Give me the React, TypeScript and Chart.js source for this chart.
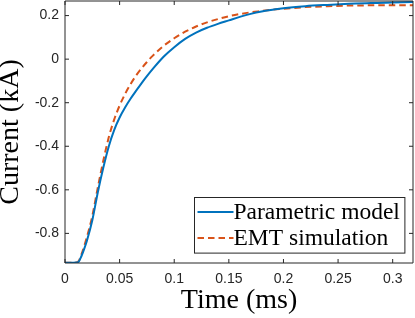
import React, { useEffect, useRef } from 'react';
import { Chart, registerables } from 'chart.js';

Chart.register(...registerables);

// ---- data ----
const timeMs = [0, 0.005, 0.01, 0.0125, 0.015, 0.0175, 0.02, 0.025, 0.03, 0.035, 0.04, 0.045, 0.05, 0.055, 0.06, 0.065, 0.07, 0.075, 0.08, 0.09, 0.1, 0.11, 0.12, 0.13, 0.14, 0.15, 0.16, 0.17, 0.18, 0.19, 0.2, 0.22, 0.24, 0.26, 0.28, 0.3, 0.32];
const parametricModel = [-0.935, -0.935, -0.934, -0.93, -0.905, -0.872, -0.835, -0.74, -0.612, -0.5, -0.402, -0.326, -0.268, -0.222, -0.182, -0.146, -0.111, -0.078, -0.047, 0.01, 0.055, 0.093, 0.122, 0.144, 0.162, 0.178, 0.194, 0.208, 0.219, 0.227, 0.234, 0.243, 0.249, 0.254, 0.258, 0.26, 0.262];
const emtSimulation = [-0.935, -0.935, -0.934, -0.927, -0.897, -0.86, -0.818, -0.72, -0.59, -0.468, -0.36, -0.278, -0.213, -0.16, -0.115, -0.076, -0.043, -0.013, 0.014, 0.06, 0.096, 0.126, 0.15, 0.169, 0.184, 0.197, 0.207, 0.215, 0.221, 0.227, 0.231, 0.239, 0.243, 0.246, 0.247, 0.247, 0.247];
const seriesLabels = ['Parametric model', 'EMT simulation'];
const xTickValues = [0, 0.05, 0.1, 0.15, 0.2, 0.25, 0.3];
const xTickLabels = ['0', '0.05', '0.1', '0.15', '0.2', '0.25', '0.3'];
const yTickValues = [-0.8, -0.6, -0.4, -0.2, 0, 0.2];
const yTickLabels = ['-0.8', '-0.6', '-0.4', '-0.2', '0', '0.2'];
const xRange = [0, 0.3186];
const yRange = [-0.936, 0.267];
const xTitle = 'Time (ms)';
const yTitle = 'Current (kA)';

const AXIS_COLOR = '#262626';
const SERIF = "'Liberation Serif', 'Times New Roman', serif";
const SANS = "'Liberation Sans', Arial, sans-serif";

function labelFor(values: number[], labels: string[], v: number): string {
  const i = values.findIndex((t) => Math.abs(t - v) < 1e-9);
  return i >= 0 ? labels[i] : '';
}

const framePlugin = {
  id: 'matlabFrame',
  afterDatasetsDraw(chart: any) {
    const { ctx, chartArea: a, scales } = chart;
    const xs = scales.x;
    const ys = scales.y;
    ctx.save();
    ctx.strokeStyle = AXIS_COLOR;
    ctx.lineWidth = 1;
    ctx.setLineDash([]);
    ctx.beginPath();
    ctx.rect(a.left, a.top, a.right - a.left, a.bottom - a.top);
    ctx.stroke();
    const tl = 4;
    ctx.beginPath();
    for (const t of xs.ticks) {
      const px = xs.getPixelForValue(t.value);
      ctx.moveTo(px, a.bottom);
      ctx.lineTo(px, a.bottom - tl);
      ctx.moveTo(px, a.top);
      ctx.lineTo(px, a.top + tl);
    }
    for (const t of ys.ticks) {
      const py = ys.getPixelForValue(t.value);
      ctx.moveTo(a.left, py);
      ctx.lineTo(a.left + tl, py);
      ctx.moveTo(a.right, py);
      ctx.lineTo(a.right - tl, py);
    }
    ctx.stroke();

    // legend box (bottom-right, inside the axes)
    const ds = chart.data.datasets;
    ctx.font = `23.5px ${SERIF}`;
    let maxW = 0;
    for (const d of ds) maxW = Math.max(maxW, ctx.measureText(d.label).width);
    const padL = 3;
    const sample = 36;
    const padR = 5;
    const rowH = 26;
    const boxW = padL + sample + maxW + padR;
    const boxH = rowH * ds.length + 3.6;
    const bx = Math.round(a.right - 9 - boxW) + 0.5;
    const by = Math.round(a.bottom - 10 - boxH) + 0.5;
    ctx.fillStyle = '#ffffff';
    ctx.fillRect(bx, by, boxW, boxH);
    ctx.strokeStyle = '#262626';
    ctx.lineWidth = 1;
    ctx.strokeRect(bx, by, boxW, boxH);
    ds.forEach((d: any, i: number) => {
      const ry = by + 14.6 + i * rowH;
      ctx.save();
      ctx.strokeStyle = d.borderColor;
      ctx.lineWidth = d.borderWidth;
      ctx.setLineDash(d.borderDash || []);
      ctx.beginPath();
      ctx.moveTo(bx + padL, ry);
      ctx.lineTo(bx + padL + sample, ry);
      ctx.stroke();
      ctx.restore();
      ctx.fillStyle = '#000000';
      ctx.textBaseline = 'middle';
      ctx.textAlign = 'left';
      ctx.fillText(d.label, bx + padL + sample, ry + 1);
    });
    ctx.restore();
  },
};

export default function App() {
  const ref = useRef<HTMLCanvasElement | null>(null);

  useEffect(() => {
    if (!ref.current) return;
    const chart = new Chart(ref.current, {
      type: 'line',
      data: {
        datasets: [
          {
            label: seriesLabels[0],
            data: timeMs.map((t, i) => ({ x: t, y: parametricModel[i] })),
            borderColor: '#0072BD',
            borderWidth: 2,
            pointRadius: 0,
            cubicInterpolationMode: 'monotone',
            fill: false,
          },
          {
            label: seriesLabels[1],
            data: timeMs.map((t, i) => ({ x: t, y: emtSimulation[i] })),
            borderColor: '#D95319',
            borderWidth: 2,
            borderDash: [6.5, 4],
            pointRadius: 0,
            cubicInterpolationMode: 'monotone',
            fill: false,
          },
        ],
      },
      options: {
        animation: false,
        responsive: false,
        devicePixelRatio: 1,
        layout: { padding: { top: 1, right: 2, bottom: 0, left: 0 } },
        plugins: {
          legend: { display: false },
          tooltip: { enabled: false },
        },
        scales: {
          x: {
            type: 'linear',
            min: xRange[0],
            max: xRange[1],
            afterBuildTicks: (scale: any) => {
              scale.ticks = xTickValues.map((v) => ({ value: v }));
            },
            afterFit: (scale: any) => {
              scale.height = 55;
              scale.paddingLeft = 0;
              scale.paddingRight = 0;
            },
            grid: { display: false, drawTicks: false },
            border: { display: false },
            ticks: {
              autoSkip: false,
              maxRotation: 0,
              padding: 8,
              color: AXIS_COLOR,
              font: { family: SANS, size: 14 },
              callback: (v: any) => labelFor(xTickValues, xTickLabels, Number(v)),
            },
            title: {
              display: true,
              text: xTitle,
              color: '#000000',
              font: { family: SERIF, size: 28, lineHeight: 1.2 },
              padding: { top: 0, bottom: 1 },
            },
          },
          y: {
            type: 'linear',
            min: yRange[0],
            max: yRange[1],
            afterBuildTicks: (scale: any) => {
              scale.ticks = yTickValues.map((v) => ({ value: v }));
            },
            afterFit: (scale: any) => {
              scale.width = 65;
              scale.paddingTop = 0;
              scale.paddingBottom = 0;
            },
            grid: { display: false, drawTicks: false },
            border: { display: false },
            ticks: {
              autoSkip: false,
              padding: 6,
              color: AXIS_COLOR,
              font: { family: SANS, size: 14 },
              callback: (v: any) => labelFor(yTickValues, yTickLabels, Number(v)),
            },
            title: {
              display: true,
              text: yTitle,
              color: '#000000',
              font: { family: SERIF, size: 28, lineHeight: 0.75 },
              padding: { top: 0, bottom: 0 },
            },
          },
        },
      },
      plugins: [framePlugin],
    } as any);
    return () => chart.destroy();
  }, []);

  return (
    <div style={{ position: 'fixed', left: 0, top: 0, width: 415, height: 318, background: '#ffffff' }}>
      <canvas ref={ref} width={415} height={318} style={{ display: 'block', width: 415, height: 318 }} />
    </div>
  );
}
